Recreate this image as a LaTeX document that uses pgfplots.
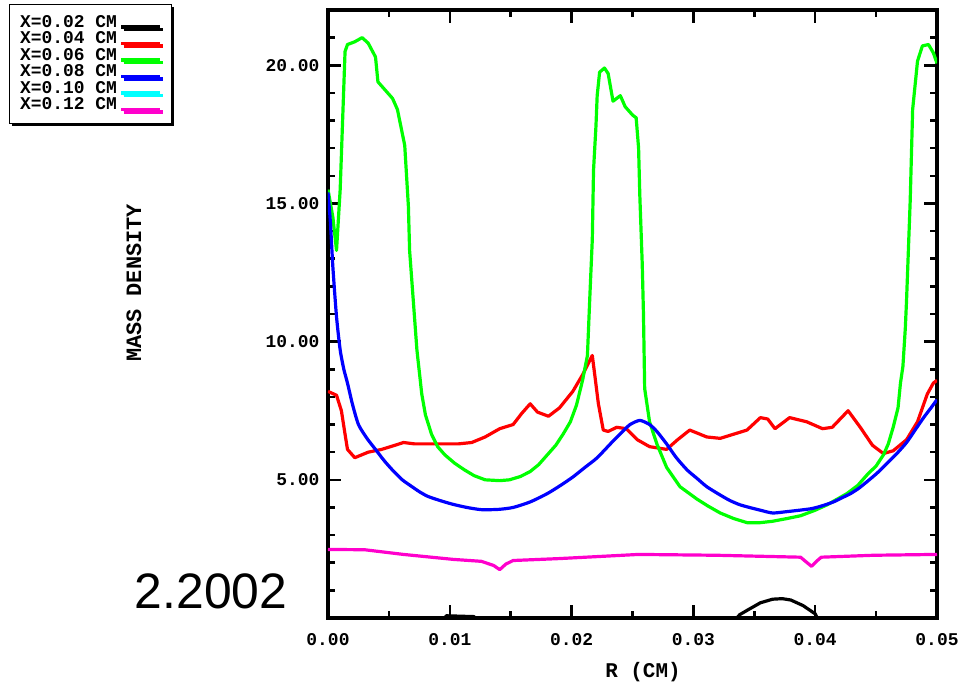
\documentclass[border=0pt]{standalone}
\usepackage{fontspec}
\usepackage{pgfplots}
\pgfplotsset{compat=1.18}
\usetikzlibrary{shadows}
\setmainfont{Liberation Sans}
\newfontfamily\pixfont{Liberation Mono}
\definecolor{cmag}{RGB}{255,0,204}
\definecolor{cgreen}{RGB}{0,255,0}
\definecolor{cblue}{RGB}{0,0,255}
\definecolor{cred}{RGB}{255,0,0}
\definecolor{ccyan}{RGB}{0,255,255}

\begin{document}
\begin{tikzpicture}[x=1bp,y=1bp]
\path[use as bounding box] (-328,-70) rectangle (633,618);
\begin{axis}[
  at={(0,0)}, anchor=south west,
  scale only axis, width=609bp, height=608bp,
  xmin=0, xmax=0.05, ymin=0, ymax=22,
  axis line style={line width=3.5bp},
  xtick={0,0.01,0.02,0.03,0.04,0.05},
  xticklabels={0.00,0.01,0.02,0.03,0.04,0.05},
  minor xtick={0.005,0.015,0.025,0.035,0.045},
  ytick={5,10,15,20},
  yticklabels={5.00,10.00,15.00,20.00},
  minor ytick={1,2,...,22},
  scaled x ticks=false,
  xtick pos=both, ytick pos=both,
  xticklabel pos=lower, yticklabel pos=left,
  tick align=inside,
  major tick length=13bp, minor tick length=7bp,
  every tick/.style={black, line width=2.5bp},
  tick label style={font=\pixfont\bfseries\fontsize{18}{18}\selectfont},
  yticklabel style={xshift=-5bp},
  xticklabel style={yshift=-12bp},
  legend style={at={(-0.524,1.0099)}, anchor=north west,
    draw=black, line width=1.5bp, fill=white,
    inner xsep=10bp, inner ysep=10bp,
    drop shadow={shadow xshift=2.5bp, shadow yshift=-2.5bp, fill=black, opacity=1},
    font=\pixfont\bfseries\fontsize{18}{18}\selectfont,
    nodes={inner sep=0.5bp, text height=12bp, text depth=3.5bp},
    row sep=0bp, column sep=2bp, cells={anchor=west}},
  legend plot pos=right,
  legend image code/.code={\draw[#1, line width=3.2bp] (0bp,-4bp) -- (39bp,-4bp);},
  every axis plot/.append style={line width=3.2bp, line join=round},
]
% X = 0.02 cm: lies on the axis except for two small humps
\addplot[black] coordinates {
 (0,-0.3) (0.0093,-0.3) (0.0097,0.08) (0.0120,0.05) (0.0124,-0.3)
 (0.0330,-0.3) (0.0338,0.12) (0.0345,0.3) (0.0355,0.55) (0.0365,0.68)
 (0.0373,0.7) (0.0380,0.65) (0.0390,0.45) (0.0400,0.15) (0.0405,-0.3) (0.05,-0.3)};
% X = 0.04 cm
\addplot[cred] coordinates {
 (0.0000,8.2) (0.0007,8.06) (0.0011,7.5) (0.0014,6.65) (0.0016,6.1) (0.0022,5.8)
 (0.0033,6.0) (0.0044,6.1) (0.0055,6.25) (0.0062,6.35) (0.0071,6.3) (0.0088,6.3)
 (0.0107,6.3) (0.0118,6.35) (0.0129,6.55) (0.0141,6.85) (0.0152,7.0) (0.0159,7.4)
 (0.0166,7.75) (0.0172,7.45) (0.0181,7.3) (0.0190,7.6) (0.0201,8.2) (0.0209,8.8)
 (0.0217,9.5) (0.0219,8.8) (0.0222,7.75) (0.0226,6.8) (0.0230,6.75) (0.0237,6.9)
 (0.0245,6.85) (0.0254,6.45) (0.0264,6.2) (0.0278,6.1) (0.0287,6.45) (0.0297,6.8)
 (0.0311,6.55) (0.0322,6.5) (0.0333,6.65) (0.0344,6.8) (0.0355,7.25) (0.0361,7.2)
 (0.0367,6.85) (0.0379,7.25) (0.0393,7.1) (0.0406,6.85) (0.0414,6.9) (0.0427,7.5)
 (0.0437,6.9) (0.0447,6.25) (0.0456,5.95) (0.0464,6.05) (0.0475,6.45) (0.0484,7.1)
 (0.0492,8.1) (0.0497,8.5) (0.0500,8.6)};
% X = 0.06 cm
\addplot[cgreen] coordinates {
 (0.0000,15.5) (0.0004,14.5) (0.0007,13.3) (0.0010,15.5) (0.0014,20.5) (0.0016,20.75)
 (0.0022,20.85) (0.0028,21.0) (0.0033,20.8) (0.0039,20.3) (0.0041,19.4) (0.0047,19.1)
 (0.0053,18.8) (0.0057,18.4) (0.0063,17.1) (0.0066,14.9) (0.0067,13.3) (0.0070,11.5)
 (0.0073,9.7) (0.0077,8.1) (0.0080,7.35) (0.0085,6.65) (0.0090,6.2) (0.0096,5.9)
 (0.0104,5.6) (0.0112,5.36) (0.0120,5.15) (0.0129,5.0) (0.0141,4.97) (0.0149,5.0)
 (0.0158,5.12) (0.0166,5.3) (0.0173,5.55) (0.0180,5.9) (0.0187,6.25) (0.0193,6.65)
 (0.0199,7.1) (0.0204,7.7) (0.0209,8.6) (0.0213,9.5) (0.0215,11.65) (0.0217,13.7)
 (0.0218,16.2) (0.0220,17.8) (0.0221,18.9) (0.0223,19.75) (0.0227,19.9) (0.0230,19.7)
 (0.0234,18.7) (0.0240,18.9) (0.0244,18.5) (0.0250,18.2) (0.0253,18.1) (0.0255,17.0)
 (0.0256,15.3) (0.0258,12.8) (0.0259,11.0) (0.0260,8.3) (0.0264,7.1) (0.0270,6.3)
 (0.0278,5.45) (0.0289,4.75) (0.0303,4.3) (0.0312,4.05) (0.0322,3.8) (0.0333,3.6)
 (0.0344,3.45) (0.0355,3.45) (0.0365,3.5) (0.0377,3.6) (0.0388,3.7) (0.0400,3.9)
 (0.0410,4.1) (0.0418,4.3) (0.0426,4.5) (0.0435,4.8) (0.0443,5.2) (0.0450,5.5)
 (0.0456,5.9) (0.0460,6.3) (0.0464,6.9) (0.0468,7.6) (0.0470,8.5) (0.0472,9.1)
 (0.0474,10.5) (0.0475,11.5) (0.0478,15.1) (0.0480,18.4) (0.0484,20.15) (0.0488,20.7)
 (0.0493,20.75) (0.0497,20.45) (0.0500,20.07)};
% X = 0.08 cm
\addplot[cblue, smooth, tension=0.4] coordinates {
 (0.0000,15.4) (0.0002,14.3) (0.0004,12.7) (0.0007,10.9) (0.0010,9.7) (0.0013,9.0)
 (0.0016,8.5) (0.0020,7.75) (0.0025,7.0) (0.0032,6.5) (0.0039,6.1) (0.0046,5.7)
 (0.0053,5.35) (0.0061,5.0) (0.0069,4.75) (0.0075,4.57) (0.0082,4.4) (0.0092,4.25)
 (0.0102,4.12) (0.0114,4.0) (0.0126,3.92) (0.0140,3.93) (0.0152,4.0) (0.0166,4.2)
 (0.0180,4.5) (0.0191,4.8) (0.0201,5.1) (0.0211,5.45) (0.0221,5.8) (0.0234,6.4)
 (0.0242,6.75) (0.0248,7.0) (0.0256,7.15) (0.0264,7.0) (0.0270,6.75) (0.0278,6.3)
 (0.0286,5.8) (0.0295,5.35) (0.0303,5.05) (0.0311,4.75) (0.0322,4.45) (0.0330,4.25)
 (0.0338,4.1) (0.0346,4.0) (0.0355,3.9) (0.0365,3.8) (0.0377,3.85) (0.0396,3.95)
 (0.0405,4.05) (0.0415,4.2) (0.0422,4.35) (0.0429,4.5) (0.0436,4.7) (0.0443,4.95)
 (0.0451,5.25) (0.0459,5.6) (0.0467,5.95) (0.0475,6.35) (0.0482,6.8) (0.0489,7.25)
 (0.0495,7.6) (0.0500,7.9)};
% X = 0.10 cm: legend entry only
\addlegendimage{ccyan, line width=3.2bp}
% X = 0.12 cm
\addplot[cmag] coordinates {
 (0.0000,2.48) (0.0030,2.47) (0.0062,2.3) (0.0103,2.12) (0.0126,2.05) (0.0136,1.9)
 (0.0141,1.75) (0.0146,1.95) (0.0152,2.08) (0.0190,2.15) (0.0255,2.3) (0.0319,2.27)
 (0.0388,2.2) (0.0392,2.05) (0.0397,1.87) (0.0401,2.05) (0.0405,2.2) (0.0448,2.27)
 (0.0500,2.3)};
\legend{{X=0.02 CM},{X=0.04 CM},{X=0.06 CM},{X=0.08 CM},{X=0.10 CM},{X=0.12 CM}}
\end{axis}
\node[rotate=90, font=\pixfont\bfseries\fontsize{22}{22}\selectfont] at (-194,335) {MASS DENSITY};
\node[font=\pixfont\bfseries\fontsize{21}{21}\selectfont] at (315,-54) {R (CM)};
\node[font=\fontsize{50}{50}\selectfont, inner sep=0pt] at (-117,27) {2.2002};
\end{tikzpicture}
\end{document}
